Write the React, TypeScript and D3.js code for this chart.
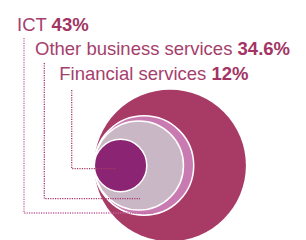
import React from "react";
import * as d3 from "d3";

const labels = ["ICT", "Other business services", "Financial services"];
const shares = [43, 34.6, 12];
const total = 100;

const colors = ["#c97bb1", "#c9b7c5", "#8c2474"];
const lineColors = ["#c2649c", "#a8336c", "#a83a66"];

const W = 306, H = 240;
const left = 94.3, cy = 165.5, R = 75.8;

// leader line layout: vertical x, top y, bottom y, end x
const lineX = [24, 44.3, 71.7];
const lineTop = [38, 63, 90];
const lineBottom = [213, 198.7, 168.7];
const lineEnd = [153, 140, 116];
const textX = [17, 35, 59.3];
const textY = [31, 55, 79.5];

const App = () => {
  const r = d3.scaleSqrt().domain([0, total]).range([0, R]);
  const circles = [total, ...shares].map((v, i) => ({
    v,
    r: r(v),
    cx: left + r(v),
    fill: i === 0 ? "#a83a66" : colors[i - 1],
    stroke: i === 0 ? "none" : "#fff",
  }));
  const line = d3.line();

  return (
    <svg width={W} height={H} style={{ position: "absolute", left: 0, top: 0 }}>
      {circles.map((c, i) => (
        <circle key={i} cx={c.cx} cy={cy} r={c.r} fill={c.fill} stroke={c.stroke} strokeWidth={1.5} />
      ))}
      {labels.map((l, i) => (
        <path
          key={l}
          d={line([[lineX[i], lineTop[i]], [lineX[i], lineBottom[i]], [lineEnd[i], lineBottom[i]]]) || ""}
          fill="none"
          stroke={lineColors[i]}
          strokeWidth={1.3}
          strokeDasharray="1.2,1.2"
        />
      ))}
      {labels.map((l, i) => (
        <text
          key={l}
          x={textX[i]}
          y={textY[i]}
          fontFamily="'Liberation Sans', Arial, sans-serif"
          fontSize={18.5}
          fill="#a5406c"
        >
          {l}{" "}
          <tspan fontWeight="bold" fill="#a23564">{shares[i]}%</tspan>
        </text>
      ))}
    </svg>
  );
};

export default App;
